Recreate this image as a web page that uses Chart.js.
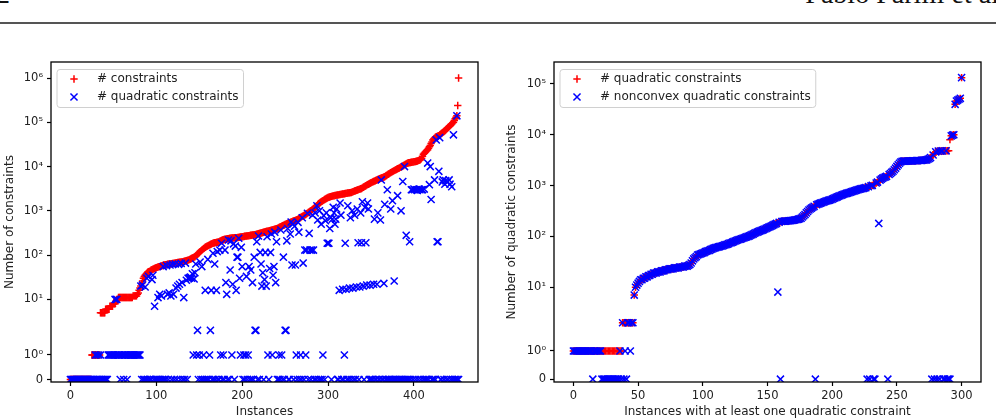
<!DOCTYPE html>
<html>
<head>
<meta charset="utf-8">
<script src="https://cdn.jsdelivr.net/npm/chart.js@4.4.1/dist/chart.umd.min.js"></script>
<style>
  html, body { margin: 0; padding: 0; background: #fff; }
  #page { position: relative; width: 996px; height: 420px; overflow: hidden; }
  .head { position: absolute; top: -20px; font-family: "Liberation Serif", serif; font-size: 28px; line-height: 28px; color: #111; white-space: nowrap; }
  #pageNo { left: -4px; }
  #authors { right: -10px; }
  #rule { position: absolute; left: 0; top: 22px; width: 996px; height: 2px; background: #555; }
  .box { position: absolute; top: 30px; height: 390px; }
  #leftBox { left: 0; width: 490px; }
  #rightBox { left: 498px; width: 498px; }
</style>
</head>
<body>
<div id="page">
  <div class="head" id="pageNo">2</div>
  <div class="head" id="authors">Pablo Parilli et al.</div>
  <div id="rule"></div>
  <div class="box" id="leftBox"><canvas id="leftChart"></canvas></div>
  <div class="box" id="rightBox"><canvas id="rightChart"></canvas></div>
</div>
<script>
// ---- data (instances sorted by the red series) ----
const leftConstraints = [
  0,0,0,0,0,0,0,0,0,0,0,0,0,0,0,0,0,0,0,0,0,0,0,0,0,
  1,1,1,1,1,1,1,1,1,1,
  5,5,5,5,5,5,6,6,6,6,6,7,7,7,7,8,8,8,
  9,10,10,11,11,11,11,11,11,11,11,11,11,11,11,11,11,11,11,11,12,12,12,12,12,13,14,
  16,18,20,23,26,30,33,35,37,39,41,42,43,44,46,
  47,48,49,50,51,52,53,54,55,55,56,57,58,59,60,60,
  61,61,62,62,63,63,64,64,65,65,66,66,67,67,68,68,69,69,70,70,71,72,73,
  74,75,76,77,78,80,82,84,86,88,90,92,
  96,100,105,110,115,120,125,130,135,140,145,
  150,154,158,162,166,170,174,178,182,185,188,190,192,194,195,196,
  200,205,210,215,220,222,225,228,230,232,234,236,238,240,242,243,244,245,246,247,248,249,250,
  252,254,256,258,260,262,264,266,268,270,272,274,276,278,280,282,284,286,288,290,292,295,300,
  305,309,313,317,321,325,329,333,337,341,345,349,353,357,361,365,370,375,380,385,390,395,400,
  410,420,430,440,450,460,470,480,490,500,510,520,530,540,550,560,570,580,590,600,610,620,635,650,
  670,690,710,730,750,770,790,810,830,860,890,920,950,980,1010,1040,1080,1120,1160,1200,1250,1300,1400,
  1450,1500,1550,1600,1650,1700,1750,1800,1850,1900,1950,2000,2030,2060,2090,2120,2150,2180,2200,
  2220,2240,2260,2280,2300,2320,2340,2360,2380,2400,2420,2440,2460,2480,2500,2520,2540,2560,2580,2600,
  2650,2700,2750,2800,2850,2900,2950,3000,3050,3100,3150,3200,3300,3400,3500,3600,3700,3800,3900,
  4000,4100,4200,4300,4400,4500,4600,4700,4800,4900,5000,5100,5200,5300,5400,5500,5600,5700,5800,5900,
  6100,6300,6500,6700,6900,7100,7300,7500,7700,7900,8100,8300,8500,8700,8900,9100,9300,9600,9800,
  10000,10300,10600,10900,11200,11500,11800,12000,12200,12300,12400,12500,
  12600,12700,12800,12900,13000,13200,13400,13600,13800,14000,14500,15500,17000,19000,
  20000,21000,22000,23000,24000,26000,28000,30000,33000,36000,40000,
  42000,44000,46000,47000,48000,49000,50000,52000,
  54000,56000,58000,60000,62000,64000,67000,71000,74000,77000,80000,84000,88000,92000,96000,100000,
  110000,120000,130000,140000,240000,1000000
];
const leftQuadratic = [
  0,0,0,0,0,0,0,0,0,0,0,0,0,0,0,0,0,0,0,0,0,0,0,0,0,0,0,0,0,
  1,0,1,0,1,0,1,0,0,0,0,0,0,0,0,
  1,1,1,1,1,1,1,1,10,1,
  10,1,1,1,0,1,1,1,0,1,
  1,1,0,1,1,1,1,1,1,1,
  1,1,1,1,1,1,1,1,
  20,0,21,0,0,19,0,30,0,33,0,0,0,28,35,0,7,0,
  0,0,11,0,13,0,12,0,55,0, 0,0,58,13,0,14,60,12,0,62, 13,0,63,18,0,20,62,22,0,65, 24,0,11,0,66,27,0,30,30,31,32,
  30,38,1,29,40,63,1,
  2,0,1,70,0,55,0,1,0,16, 0,0,80,0,1,2,16,0,110,0, 63,0,16,120,0,0,130,1,185,0, 1,0,130,24,13,0,
  220,0,46,210,1,22,180,0,160,16,90,90,240,30,1,150,55,0,
  1,0,1,33,0,1,55,0,46,0,24,0,90,2,2,200,0,270,0,115,63,
  20,40,0,28,115,20,260,1,0,50, 115,300,1,35,55,330,24,200,0,0, 1,0,370,1,0,90,0,2,2,210, 400,0,0,300,560,60,500,
  0,450,60,1,0,550,330,0,1,0, 700,66,0,130,1,130,880,0,310,130, 0,130,800,130,0,900,0,1300,620,0, 1000,0,500,0,1,780,0,600,900,185, 185,
  185,400,700,0,650,1200,900,500,650,1100,0,0,16,1500,800,0,17,
  0,1,185,17,0,1300,0,18,700,0, 1000,18,0,800,0,19,1100,190,0,19, 900,190,1600,20,0,
  1200,190,21,1500,1100,
  0,21,0,0,0,22,650,0,0,22, 900,0,0,620,5000,0,0,23,1400,0,
  0,3000,0,0,0,1100,0,1700,0,26, 0,0,0,2200,0,0,0,1000,0,4600,
  0,10000,0,280,0,0,0,200,0,3000, 3000,0,3100,3000,0,3000,2900,0,3100,3000,
  0,3000,3000,0,3100,0,0,0,12000,0, 3900,10000,1800,0,0,0,5000,0,40000,200,
  200,7800,45000,0,0,4500,5000,0,4000,4800, 0,4500,0,5000,4000,0,3500,0,52000,0,
  0,0,140000,0,0
];
const rightQuadratic = [
  1,1,1,1,1,1,1,1,1,1,1,1,1,1,1,1,1,1,1,1,1,1,1,1,1,1,1,1,1,1,1,1,1,1,1,1,1,1,
  2,2,2,2,2,2,2,2,2,
  7,10,11,12,
  13,14,14,15,15,16,16,17,17,18,
  18,19,19,19,20,20,20,21,21,21,22,22,22,23,23,
  23,23,24,24,24,24,25,25,25,25,26,26,26,27,28,
  30,33,36,38,40,43,
  44,45,46,47,48,50,51,52,53,55,56,58,
  59,60,61,62,63,64,65,66,68,69,70,72,74,75,77,79,
  81,83,85,87,88,90,92,94,96,98,100,102,105,108,111,115,
  118,121,124,127,130,133,136,140,144,148,152,156,
  160,165,170,175,180,185,190,194,196,198,199,200,201,
  202,203,204,206,208,210,212,215,218,222,228,
  240,255,270,290,309,330,345,360,375,390,405,420,
  430,440,450,460,470,480,490,500,510,518,527,
  540,555,570,585,600,615,630,645,660,675,690,700,711,
  725,740,755,770,785,800,815,830,845,860,870,880,893,
  910,930,950,970,990,1010,1040,1080,1120,
  1170,1220,1280,1340,1400,1440,1480,1520,1580,1650,1730,1820,1910,
  2050,2200,2380,2560,2750,2900,3010,
  3020,3030,3030,3040,3040,3050,3050,3060,3070,3080,3090,3100,3110,3120,3130,3150,3170,3190,3200,
  3300,3400,3550,3780,4000,4300,4600,
  4740,4760,4780,4790,4800,4800,4810,4820,4840,4860,
  8000,
  9500,9800,10000,
  39700,46000,48000,50000,52000,
  133000
];
const rightNonconvex = [
  1,1,1,1,1,1,1,1,1,1,1,1,1,1,1,0,1,1,1,1,1,1,
  0,0,0,0,0,0,0,0,0,0,0,0,0,0,
  1,0,2,0,1,0,2,2,1,2,2,
  7,10,11,12,
  13,14,14,15,15,16,16,17,17,18,
  18,19,19,19,20,20,20,21,21,21,22,22,22,23,23,
  23,23,24,24,24,24,25,25,25,25,26,26,26,27,28,
  30,33,36,38,40,43,
  44,45,46,47,48,50,51,52,53,55,56,58,
  59,60,61,62,63,64,65,66,68,69,70,72,74,75,77,79,
  81,83,85,87,88,90,92,94,96,98,100,102,105,108,111,115,
  118,121,124,127,130,133,136,140,144,148,152,156,
  160,165,170,175,180,8,190,0,196,198,199,200,201,
  202,203,204,206,208,210,212,215,218,222,228,
  240,255,270,290,309,330,345,360,375,390,0,420,
  430,440,450,460,470,480,490,500,510,518,527,
  540,555,570,585,600,615,630,645,660,675,690,700,711,
  725,740,755,770,785,800,815,830,845,860,870,880,893,
  910,0,950,0,990,1010,0,0,1120,
  1170,180,1280,1340,1400,1440,1480,1520,0,1650,1730,1820,1910,
  2050,2200,2380,2560,2750,2900,3010,
  3020,3030,3030,3040,3040,3050,3050,3060,3070,3080,3090,3100,3110,3120,3130,3150,3170,3190,3200,
  3300,3400,3550,0,4000,0,4600,
  0,4760,0,4790,4800,0,0,4820,0,0,
  0,
  9500,9800,10000,
  39700,46000,48000,50000,52000,
  133000
];

const leftXTicks = [0, 100, 200, 300, 400];
const rightXTicks = [0, 50, 100, 150, 200, 250, 300];
const leftYTicks = [0, 1, 10, 100, 1000, 10000, 100000, 1000000];
const leftYLabels = ['0', '10⁰', '10¹', '10²', '10³', '10⁴', '10⁵', '10⁶'];
const rightYTicks = [0, 1, 10, 100, 1000, 10000, 100000];
const rightYLabels = ['0', '10⁰', '10¹', '10²', '10³', '10⁴', '10⁵'];

// ---- symlog axis (linthresh 2, linscale 1, like matplotlib) ----
const LINTHRESH = 2;
const LINSCALE = 1 / (1 - 1 / 10);
function symlog(v) {
  const a = Math.abs(v);
  const t = a <= LINTHRESH ? a / LINTHRESH * LINSCALE : LINSCALE + Math.log10(a / LINTHRESH);
  return v < 0 ? -t : t;
}
function symexp(t) {
  const a = Math.abs(t);
  const v = a <= LINSCALE ? a / LINSCALE * LINTHRESH : LINTHRESH * Math.pow(10, a - LINSCALE);
  return t < 0 ? -v : v;
}
class SymlogScale extends Chart.LinearScale {
  static id = 'symlog';
  static defaults = Chart.LinearScale.defaults;
  getPixelForValue(value) {
    const lo = symlog(this.min), hi = symlog(this.max);
    return this.getPixelForDecimal((symlog(value) - lo) / (hi - lo));
  }
  getValueForPixel(pixel) {
    const lo = symlog(this.min), hi = symlog(this.max);
    return symexp(lo + this.getDecimalForPixel(pixel) * (hi - lo));
  }
}
Chart.register(SymlogScale);

Chart.defaults.font.family = '"DejaVu Sans", sans-serif';
Chart.defaults.font.size = 11.5;
Chart.defaults.color = '#222';

// frame around the axes + matplotlib style legend box
const mplFrame = {
  id: 'mplFrame',
  afterDraw(chart, args, opts) {
    const {ctx, chartArea: a} = chart;
    ctx.save();
    ctx.strokeStyle = '#000';
    ctx.lineWidth = 1.3;
    ctx.strokeRect(a.left, a.top, a.right - a.left, a.bottom - a.top);

    ctx.font = '12px "DejaVu Sans", sans-serif';
    const sets = chart.data.datasets;
    const textW = Math.max(...sets.map(d => ctx.measureText(d.label).width));
    const x0 = a.left + opts.dx, y0 = a.top + opts.dy;
    const w = opts.textX + textW + 5, h = 38;
    ctx.beginPath();
    ctx.roundRect(x0, y0, w, h, 3);
    ctx.fillStyle = 'rgba(255,255,255,0.8)';
    ctx.fill();
    ctx.strokeStyle = '#d0d0d0';
    ctx.lineWidth = 1;
    ctx.stroke();
    sets.forEach((d, k) => {
      const cy = y0 + 9.5 + k * 18;
      ctx.strokeStyle = d.borderColor;
      ctx.fillStyle = d.borderColor;
      ctx.lineWidth = d.borderWidth;
      Chart.helpers.drawPoint(ctx, {pointStyle: d.pointStyle, radius: d.pointRadius, borderWidth: d.borderWidth, rotation: 0}, x0 + 17, cy);
      ctx.fillStyle = '#222';
      ctx.textBaseline = 'middle';
      ctx.fillText(d.label, x0 + opts.textX, cy);
    });
    ctx.restore();
  }
};

function makeChart(id, cfg) {
  const toPts = arr => arr.map((v, i) => ({x: i, y: v}));
  return new Chart(document.getElementById(id), {
    type: 'scatter',
    data: {
      datasets: [{
        label: cfg.redLabel,
        data: toPts(cfg.red),
        pointStyle: 'cross',
        pointRadius: 3.7,
        borderWidth: 1.5,
        borderColor: '#ff0000',
        backgroundColor: '#ff0000',
        clip: 0,
        order: 2
      }, {
        label: cfg.blueLabel,
        data: toPts(cfg.blue),
        pointStyle: 'crossRot',
        pointRadius: 5,
        borderWidth: 1.5,
        borderColor: '#0000ff',
        backgroundColor: '#0000ff',
        clip: 0,
        order: 1
      }]
    },
    options: {
      responsive: true,
      maintainAspectRatio: false,
      animation: false,
      events: [],
      layout: {padding: {top: 32, right: cfg.padRight, left: 0, bottom: 0}},
      plugins: {
        legend: {display: false},
        tooltip: {enabled: false},
        mplFrame: {dx: 6, dy: 7.5, textX: 40}
      },
      scales: {
        x: {
          type: 'linear',
          min: cfg.xMin,
          max: cfg.xMax,
          afterBuildTicks: s => { s.ticks = cfg.xTicks.map(v => ({value: v})); },
          afterFit: s => { s.height = 38; },
          ticks: {padding: 3, autoSkip: false, maxRotation: 0, color: '#222'},
          grid: {drawOnChartArea: false, drawTicks: true, tickLength: 4, color: '#000', tickWidth: 1.2},
          border: {display: false},
          title: {display: true, text: cfg.xTitle, font: {size: 12}, padding: {top: 0, bottom: 1}, color: '#222'}
        },
        y: {
          type: 'symlog',
          min: -0.1,
          max: cfg.yMax,
          bounds: 'data',
          afterBuildTicks: s => { s.ticks = cfg.yTicks.map(v => ({value: v})); },
          afterFit: s => { s.width = cfg.yWidth; },
          ticks: {padding: 4, autoSkip: false, color: '#222', callback: (v, i) => cfg.yLabels[i]},
          grid: {drawOnChartArea: false, drawTicks: true, tickLength: 4, color: '#000', tickWidth: 1.2},
          border: {display: false},
          title: {display: true, text: cfg.yTitle, font: {size: 12}, padding: {top: cfg.yTitlePad, bottom: 0}, color: '#222'}
        }
      }
    },
    plugins: [mplFrame]
  });
}

makeChart('leftChart', {
  red: leftConstraints, blue: leftQuadratic,
  redLabel: '# constraints', blueLabel: '# quadratic constraints',
  xMin: -22.6, xMax: 474.6, xTicks: leftXTicks,
  yMax: 2.3e6, yTicks: leftYTicks, yLabels: leftYLabels,
  xTitle: 'Instances', yTitle: 'Number of constraints',
  yWidth: 51, padRight: 12, yTitlePad: 3
});
makeChart('rightChart', {
  red: rightQuadratic, blue: rightNonconvex,
  redLabel: '# quadratic constraints', blueLabel: '# nonconvex quadratic constraints',
  xMin: -15, xMax: 315, xTicks: rightXTicks,
  yMax: 2.7e5, yTicks: rightYTicks, yLabels: rightYLabels,
  xTitle: 'Instances with at least one quadratic constraint', yTitle: 'Number of quadratic constraints',
  yWidth: 56, padRight: 15, yTitlePad: 6.5
});
</script>
</body>
</html>
